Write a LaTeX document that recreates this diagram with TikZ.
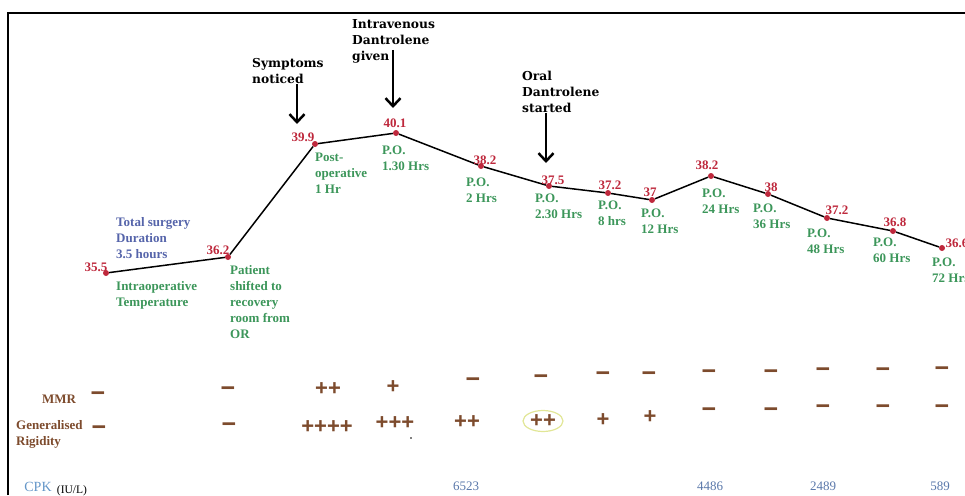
\documentclass[tikz,border=0pt]{standalone}
\usepackage{fontspec}
\setmainfont{Liberation Serif}
\newfontfamily\notefont{DejaVu Serif}
\newfontfamily\signfont{Liberation Sans}
\usetikzlibrary{arrows.meta,shapes.geometric}
\definecolor{tempred}{RGB}{190,40,60}
\definecolor{pogreen}{RGB}{60,150,90}
\definecolor{durblue}{RGB}{85,100,170}
\definecolor{signbrown}{RGB}{125,75,45}
\definecolor{cpkblue}{RGB}{100,150,200}
\definecolor{cpkval}{RGB}{90,120,170}
\definecolor{ringyellow}{RGB}{225,230,150}

\begin{document}
\begin{tikzpicture}[x=1pt,y=-1pt,
  temp/.style={circle,fill=tempred,inner sep=0pt,minimum size=6pt},
  val/.style={text=tempred,font=\bfseries\fontsize{13}{16}\selectfont,inner sep=0pt},
  polbl/.style={text=pogreen,font=\bfseries\fontsize{13}{16}\selectfont,align=left,anchor=west,inner sep=0pt},
  note/.style={font=\notefont\bfseries\fontsize{12.3}{16}\selectfont,align=left,anchor=west,inner sep=0pt},
  notearrow/.style={line width=2.5pt,-{Straight Barb[length=8pt,width=15pt]}},
  sign/.style={text=signbrown,font=\signfont\bfseries\fontsize{22}{24}\selectfont,inner sep=0pt},
  minus/.style={sign,font=\signfont\bfseries\fontsize{25}{24}\selectfont},
  rowlbl/.style={text=signbrown,font=\bfseries\fontsize{13}{16}\selectfont,inner sep=0pt},
  cpk/.style={text=cpkval,font=\fontsize{13}{16}\selectfont,inner sep=0pt}]
\useasboundingbox (0,0) rectangle (965,495);
\draw[line width=2pt] (8,495) -- (8,13) -- (965,13);

% temperature curve
\foreach \n/\x/\y in {1/106/273,2/228/257,3/315/144,4/396/133,5/481/166,6/549/186,7/608/193,
    8/652/200,9/711/176,10/768/194,11/827/218,12/893/231,13/942/248}
  \node[temp] (p\n) at (\x,\y) {};
\draw[line width=1.5pt] (p1) -- (p2) -- (p3) -- (p4) -- (p5) -- (p6) -- (p7) -- (p8) -- (p9) -- (p10) -- (p11) -- (p12) -- (p13);
\foreach \n/\x/\y/\t in {1/96/267/35.5,2/218/250/36.2,3/303/137/39.9,4/395/123/40.1,5/485/160/38.2,
    6/553/180/37.5,7/610/185/37.2,8/650/192/37,9/707/165/38.2,10/771/187/38,11/837/210/37.2,
    12/895/222/36.8,13/957/243/36.6}
  \node[val] (v\n) at (\x,\y) {\t};

% time labels
\node[polbl,text=durblue] (dur) at (116,238) {Total surgery\\Duration\\3.5 hours};
\foreach \n/\x/\y/\t in {1/116/295/{Intraoperative\\Temperature},2/230/302/{Patient\\shifted to\\recovery\\room from\\OR},
    3/315/173/{Post-\\operative\\1 Hr},4/382/158/{P.O.\\1.30 Hrs},5/466/190/{P.O.\\2 Hrs},
    6/535/206/{P.O.\\2.30 Hrs},7/598/213/{P.O.\\8 hrs},8/641/221/{P.O.\\12 Hrs},9/702/201/{P.O.\\24 Hrs},
    10/753/216/{P.O.\\36 Hrs},11/807/241/{P.O.\\48 Hrs},12/873/250/{P.O.\\60 Hrs},13/932/270/{P.O.\\72 Hrs}}
  \node[polbl] (t\n) at (\x,\y) {\t};

% events
\node[note] (sym) at (252,71) {Symptoms\\noticed};
\node[note] (iv) at (352,41) {Intravenous\\Dantrolene\\given};
\node[note] (oral) at (522,92) {Oral\\Dantrolene\\started};
\coordinate (symtip) at (297,124);
\coordinate (ivtop) at (393,50);
\coordinate (ivtip) at (393,108);
\coordinate (oraltip) at (546,163);
\draw[notearrow] (symtip |- sym.south) -- (symtip);
\draw[notearrow] (ivtop) -- (ivtip);
\draw[notearrow] (oraltip |- oral.south) -- (oraltip);

% MMR and rigidity
\node[rowlbl] (mmr) at (59,399) {MMR};
\node[rowlbl,align=left,anchor=west] (rig) at (16,434) {Generalised\\Rigidity};
\foreach \n/\x/\y in {1/98/397,2/228/392,5/473/383,6/541/380,7/603/377,8/649/377,9/709/375,
    10/771/375,11/823/373,12/883/373,13/942/372}
  \node[minus] (m\n) at (\x,\y) {−};
\foreach \n/\x/\y/\t in {3/328/389/++,4/393/387/+}
  \node[sign] (m\n) at (\x,\y) {\t};
\foreach \n/\x/\y in {1/99/431,2/229/428,9/709/413,10/771/413,11/823/410,12/883/410,13/942/410}
  \node[minus] (r\n) at (\x,\y) {−};
\foreach \n/\x/\y/\t in {3/327/427/++++,4/395/423/+++,5/467/422/++,7/603/420/+,8/650/417/+}
  \node[sign] (r\n) at (\x,\y) {\t};
\node[sign,ellipse,draw=ringyellow,line width=1.2pt,minimum width=40pt,minimum height=21pt] (r6) at (543,421) {++};
\fill (411,438) circle (0.8pt);

% CPK
\node[text=cpkblue,font=\fontsize{14}{16}\selectfont,inner sep=0pt] (cpk) at (38,487) {CPK};
\node[font=\fontsize{11.5}{13}\selectfont,inner sep=0pt] (unit) at (72,491) {(IU/L)};
\foreach \n/\x/\t in {5/466/6523,9/710/4486,11/823/2489,13/940/589}
  \node[cpk] (c\n) at (\x,486) {\t};
\end{tikzpicture}
\end{document}
